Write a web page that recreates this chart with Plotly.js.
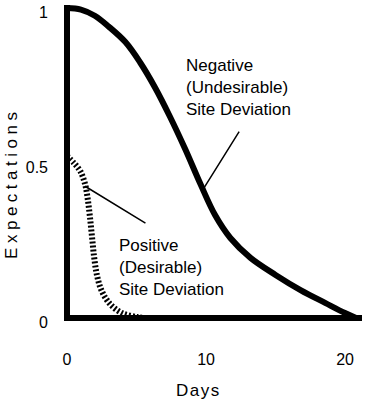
<!DOCTYPE html>
<html>
<head>
<meta charset="utf-8">
<script src="https://cdn.plot.ly/plotly-3.0.1.min.js"></script>
<style>
  html, body { margin: 0; padding: 0; background: #fff; }
  #chart { width: 366px; height: 401px; }
</style>
</head>
<body>
<div id="chart"></div>
<script>
// Expected value of a site deviation over time (days)
const negDays = [0, 1.0, 2.0, 3.0, 4.2, 5.25, 6.35, 7.4, 8.5, 9.6, 10.65, 11.75, 13.2, 15.0, 16.8, 18.6, 20.0, 20.8];
const negExpect = [1.0, 0.995, 0.975, 0.94, 0.89, 0.825, 0.742, 0.65, 0.545, 0.432, 0.332, 0.258, 0.194, 0.139, 0.090, 0.048, 0.016, 0.0];

const posDays = [0, 0.5, 0.95, 1.3, 1.5, 1.65, 1.8, 1.95, 2.15, 2.5, 3.1, 3.95, 5.05, 5.6];
const posExpect = [0.523, 0.50, 0.474, 0.432, 0.381, 0.326, 0.261, 0.197, 0.139, 0.087, 0.045, 0.016, 0.003, 0.0];

const yTickVals = [0, 0.5, 1];
const yTickText = ['0', '0.5', '1'];
const xTickVals = [0, 10, 20];
const xTickText = ['0', '10', '20'];

const xTitle = 'Days';
const yTitle = 'Expectations';
const negLabel = 'Negative<br>(Undesirable)<br>Site Deviation';
const posLabel = 'Positive<br>(Desirable)<br>Site Deviation';

// leader lines: [tail x, tail y, tip x, tip y]
const negLeader = [12.45, 0.606, 9.72, 0.41];
const posLeader = [5.75, 0.303, 1.3, 0.425];

const FONT = '"Liberation Sans", Arial, Helvetica, sans-serif';

const traces = [
  {
    x: negDays, y: negExpect, type: 'scatter', mode: 'lines',
    line: { color: '#000', width: 6, shape: 'spline', smoothing: 1 },
    hoverinfo: 'skip'
  },
  {
    x: posDays, y: posExpect, type: 'scatter', mode: 'lines',
    line: { color: '#000', width: 6, shape: 'spline', smoothing: 1, dash: '2px,2px' },
    hoverinfo: 'skip'
  }
];

function leader(p) {
  return {
    x: p[2], y: p[3], ax: p[0], ay: p[1],
    xref: 'x', yref: 'y', axref: 'x', ayref: 'y',
    text: '', showarrow: true, arrowhead: 0, arrowwidth: 1.5,
    arrowcolor: '#000', standoff: 0, startstandoff: 0
  };
}

function spaced(text, px) {
  return '<span style="letter-spacing:' + px + 'px">' + text + '</span>';
}

const layout = {
  width: 366, height: 401,
  margin: { l: 64, r: 4, t: 5, b: 80 },
  paper_bgcolor: '#fff', plot_bgcolor: '#fff',
  showlegend: false,
  font: { family: FONT, color: '#000', size: 16 },
  xaxis: {
    range: [-0.216, 21.22],
    showgrid: false, showline: false,
    zeroline: true, zerolinecolor: '#000', zerolinewidth: 6,
    tickvals: xTickVals, ticktext: xTickText,
    ticks: '', ticklabelstandoff: 27, ticklabeloverflow: 'allow',
    tickfont: { size: 16 }
  },
  yaxis: {
    range: [-0.0097, 1.0097],
    showgrid: false, showline: false,
    zeroline: true, zerolinecolor: '#000', zerolinewidth: 6,
    tickvals: yTickVals, ticktext: yTickText,
    ticks: '', ticklabelstandoff: 15, ticklabelshift: 4, ticklabeloverflow: 'allow',
    tickfont: { size: 16 }
  },
  annotations: [
    // axis titles
    {
      x: 0.4497, y: -0.2215, xref: 'paper', yref: 'paper',
      xanchor: 'center', yanchor: 'middle', showarrow: false,
      text: spaced(xTitle, 1.5), font: { size: 17 }
    },
    {
      x: -0.1745, y: 0.437, xref: 'paper', yref: 'paper',
      xanchor: 'center', yanchor: 'middle', showarrow: false, textangle: -90,
      text: spaced(yTitle, 4.5), font: { size: 17 }
    },
    // curve labels
    {
      x: 8.42, y: 0.853, xref: 'x', yref: 'y', xanchor: 'left', yanchor: 'top',
      text: negLabel, showarrow: false, align: 'left', font: { size: 17 }
    },
    {
      x: 3.6, y: 0.272, xref: 'x', yref: 'y', xanchor: 'left', yanchor: 'top',
      text: posLabel, showarrow: false, align: 'left', font: { size: 17 }
    },
    leader(negLeader),
    leader(posLeader)
  ]
};

Plotly.newPlot('chart', traces, layout, { staticPlot: true, displayModeBar: false });
</script>
</body>
</html>
